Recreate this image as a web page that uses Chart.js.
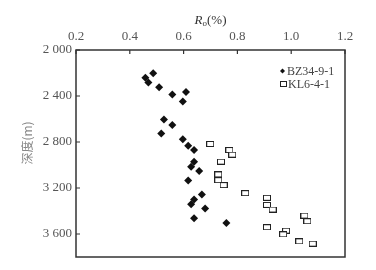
<!DOCTYPE html>
<html>
<head>
<meta charset="utf-8">
<script src="https://cdn.jsdelivr.net/npm/chart.js@4"></script>
<style>
  html, body { margin: 0; padding: 0; background: #fff; }
  canvas { display: block; }
</style>
</head>
<body>
<canvas id="roChart" width="376" height="270"></canvas>
<script>
// 轴刻度
const xTicks = [0.2, 0.4, 0.6, 0.8, 1.0, 1.2];
const yTicks = [2000, 2400, 2800, 3200, 3600];

// BZ34-9-1 (菱形)
const bzLabel = 'BZ34-9-1';
const bzRo =    [0.487, 0.458, 0.469, 0.509, 0.609, 0.558, 0.597, 0.527, 0.558, 0.517, 0.597, 0.617, 0.639, 0.639, 0.628, 0.658, 0.617, 0.668, 0.639, 0.628, 0.680, 0.639, 0.759];
const bzDepth = [2203, 2242, 2282, 2323, 2366, 2387, 2448, 2605, 2652, 2727, 2777, 2832, 2870, 2971, 3015, 3053, 3134, 3257, 3300, 3341, 3379, 3463, 3504];

// KL6-4-1 (空心方块)
const klLabel = 'KL6-4-1';
const klRo =    [0.699, 0.770, 0.781, 0.739, 0.729, 0.729, 0.749, 0.829, 0.910, 0.910, 0.931, 1.049, 1.060, 0.910, 0.981, 0.970, 1.030, 1.080];
const klDepth = [2817, 2870, 2910, 2971, 3082, 3132, 3175, 3245, 3285, 3347, 3387, 3440, 3489, 3541, 3571, 3603, 3664, 3684];

const serif = '"Liberation Serif", "DejaVu Serif", serif';

// 方块点样式 (宽略大于高)
function makeBox(w, h) {
    const c = document.createElement('canvas');
    c.width = w; c.height = h;
    const g = c.getContext('2d');
    g.fillStyle = '#fff';
    g.fillRect(0, 0, w, h);
    g.strokeStyle = '#222';
    g.lineWidth = 1;
    g.strokeRect(0.5, 0.5, w - 1, h - 1);
    return c;
}
const boxPoint = makeBox(8, 6);
const boxLegend = makeBox(7, 6);

const fmtDepth = v => String(v).replace(/\B(?=(\d{3})+(?!\d))/g, ' ');

// 边框、向内刻度、标题、图例
const decorPlugin = {
    id: 'decor',
    afterDraw(chart) {
        const { ctx, chartArea: a, scales } = chart;
        ctx.save();
        ctx.strokeStyle = '#333';
        ctx.lineWidth = 1.5;
        ctx.strokeRect(a.left, a.top, a.right - a.left, a.bottom - a.top);

        ctx.lineWidth = 1.2;
        ctx.beginPath();
        xTicks.forEach(v => {
            const px = scales.x.getPixelForValue(v);
            ctx.moveTo(px, a.top);
            ctx.lineTo(px, a.top + 4);
        });
        yTicks.forEach(v => {
            const py = scales.y.getPixelForValue(v);
            ctx.moveTo(a.left, py);
            ctx.lineTo(a.left + 4, py);
        });
        ctx.stroke();

        // x 标题 Ro(%)
        ctx.fillStyle = '#333';
        ctx.textBaseline = 'alphabetic';
        const cx = (a.left + a.right) / 2;
        ctx.font = 'italic 13px ' + serif;
        const wR = ctx.measureText('R').width;
        ctx.font = '9px ' + serif;
        const wo = ctx.measureText('o').width;
        ctx.font = '13px ' + serif;
        const wP = ctx.measureText('(%)').width;
        let tx = cx - (wR + wo + wP) / 2;
        ctx.textAlign = 'left';
        ctx.font = 'italic 13px ' + serif;
        ctx.fillText('R', tx, 24);
        tx += wR;
        ctx.font = '9px ' + serif;
        ctx.fillText('o', tx, 26);
        tx += wo;
        ctx.font = '13px ' + serif;
        ctx.fillText('(%)', tx, 24);

        // y 标题
        ctx.save();
        ctx.translate(27, 143);
        ctx.rotate(-Math.PI / 2);
        ctx.textAlign = 'center';
        ctx.textBaseline = 'middle';
        ctx.fillStyle = '#888';
        ctx.font = '12px "Noto Sans CJK SC", sans-serif';
        ctx.fillText('深度(m)', 0, 0);
        ctx.restore();

        // 图例
        ctx.fillStyle = '#111';
        ctx.beginPath();
        ctx.moveTo(282.5, 68.5);
        ctx.lineTo(285, 71);
        ctx.lineTo(282.5, 73.5);
        ctx.lineTo(280, 71);
        ctx.closePath();
        ctx.fill();
        ctx.drawImage(boxLegend, 280, 81);
        ctx.fillStyle = '#444';
        ctx.font = '12px ' + serif;
        ctx.textAlign = 'left';
        ctx.textBaseline = 'middle';
        ctx.fillText(bzLabel, 287, 71.5);
        ctx.fillText(klLabel, 288, 84.5);
        ctx.restore();
    }
};

new Chart(document.getElementById('roChart'), {
    type: 'scatter',
    data: {
        datasets: [
            {
                label: bzLabel,
                data: bzRo.map((v, i) => ({ x: v, y: bzDepth[i] })),
                pointStyle: 'rectRot',
                pointRadius: 4,
                backgroundColor: '#111',
                borderColor: '#111',
                borderWidth: 0
            },
            {
                label: klLabel,
                data: klRo.map((v, i) => ({ x: v, y: klDepth[i] })),
                pointStyle: boxPoint,
                pointRadius: 4
            }
        ]
    },
    options: {
        responsive: false,
        animation: false,
        layout: { padding: { left: 0, top: 0, right: 31, bottom: 13 } },
        plugins: { legend: { display: false }, tooltip: { enabled: false } },
        scales: {
            x: {
                type: 'linear',
                position: 'top',
                min: 0.2,
                max: 1.2,
                afterBuildTicks: s => { s.ticks = xTicks.map(v => ({ value: v })); },
                afterFit: s => { s.height = 50; },
                grid: { display: false, drawTicks: false },
                border: { display: false },
                ticks: {
                    padding: 6,
                    color: '#555',
                    font: { family: serif, size: 13 },
                    callback: v => Number(v).toFixed(1)
                }
            },
            y: {
                type: 'linear',
                reverse: true,
                min: 2000,
                max: 3800,
                afterBuildTicks: s => { s.ticks = yTicks.map(v => ({ value: v })); },
                afterFit: s => { s.width = 76; },
                grid: { display: false, drawTicks: false },
                border: { display: false },
                ticks: {
                    padding: 4,
                    color: '#555',
                    font: { family: serif, size: 13 },
                    callback: v => fmtDepth(v)
                }
            }
        }
    },
    plugins: [decorPlugin]
});
</script>
</body>
</html>
